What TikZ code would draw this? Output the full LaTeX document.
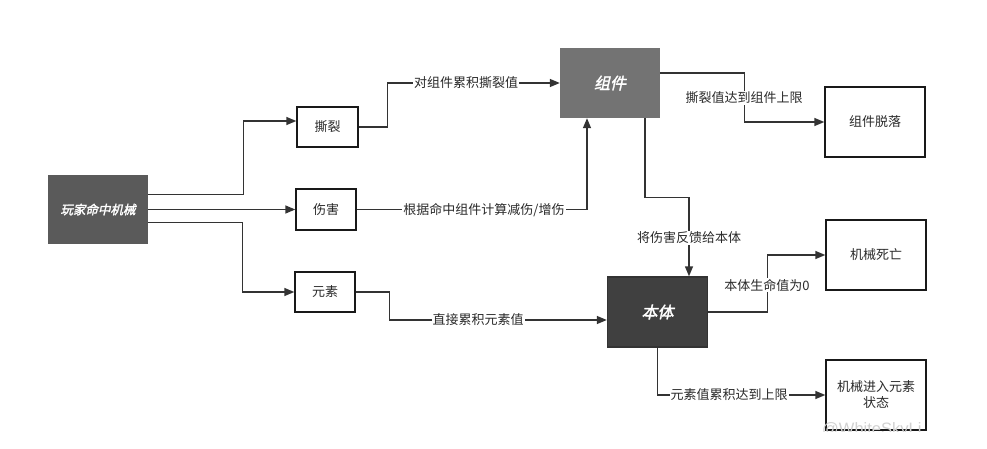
\documentclass[tikz,border=0pt]{standalone}
\usepackage{fontspec}
\setmainfont{Noto Sans CJK SC}
\newfontfamily\cjkbi{Noto Sans CJK SC}[FakeSlant=0.22,FakeBold=2]
\newfontfamily\wmfont{Liberation Sans}
\usetikzlibrary{arrows.meta}
\definecolor{linec}{HTML}{333333}
\definecolor{txtc}{HTML}{2A2A2A}
\definecolor{hitc}{HTML}{5A5A5A}
\definecolor{compc}{HTML}{737373}
\definecolor{bodyc}{HTML}{404040}
\tikzset{
  plainbox/.style={draw=black!90, line width=1.4pt, fill=white, text=txtc, minimum width=#1, align=center, inner sep=0pt, font=\fontsize{13}{16}\selectfont},
  plainbox/.default=100pt,
  darkbox/.style={draw=none, text=white, minimum width=100pt, minimum height=70pt, inner sep=0pt},
  arr/.style={draw=linec, line width=1.4pt, -{Triangle[length=10pt,width=8pt]}},
  elabel/.style={fill=white, text=txtc, inner sep=1pt, font=\fontsize{13}{15}\selectfont}
}
\begin{document}
\begin{tikzpicture}[x=1pt,y=-1pt]
\useasboundingbox (0,0) rectangle (987,449);
\fill[white] (0,0) rectangle (987,449);
% nodes
\node[darkbox, fill=hitc, minimum height=69pt, font=\cjkbi\fontsize{12.5}{14}\selectfont] (hit) at (98,209.5) {玩家命中机械};
\node[plainbox=61pt, minimum height=40pt] (tear) at (327.5,127) {撕裂};
\node[plainbox=60pt, minimum height=41pt] (dmg) at (326,209.5) {伤害};
\node[plainbox=60pt, minimum height=40pt] (elem) at (325,292) {元素};
\node[darkbox, fill=compc, font=\cjkbi\fontsize{16}{18}\selectfont] (comp) at (610,83) {组件};
\node[plainbox, minimum height=70pt] (drop) at (875,122) {组件脱落};
\node[plainbox, minimum height=70pt] (death) at (876,255) {机械死亡};
\node[darkbox, fill=bodyc, draw=linec, line width=1.4pt, font=\cjkbi\fontsize{16}{18}\selectfont] (body) at (657.5,312) {本体};
\node[plainbox, minimum height=70pt] (state) at (876,395) {机械进入元素\\状态};
% watermark
\begin{scope}
\clip (815,405) rectangle (940,431);
\node[anchor=base west, text=black!18, inner sep=0pt, font=\wmfont\fontsize{16.5}{18}\selectfont] (wm) at (822,434) {@WhiteSkyLi};
\end{scope}
% connectors
\draw[arr] ([yshift=15pt]hit.east) -- ++(95,0) |- ([yshift=6pt]tear.west);
\draw[arr] (hit.east) -- (dmg.west);
\draw[arr] ([yshift=-13pt]hit.east) -- ++(94,0) |- (elem.west);
\draw[arr] (tear.east) -- ++(29,0) |- (comp.west);
\draw[arr] (dmg.east) -| ([xshift=-23pt]comp.south);
\draw[arr] ([yshift=10pt]comp.east) -- ++(84,0) |- (drop.west);
\draw[arr] ([xshift=35pt]comp.south) -- ++(0,79) -| ([xshift=31.5pt]body.north);
\draw[arr] (elem.east) -- ++(34,0) |- ([yshift=-8pt]body.west);
\draw[arr] (body.east) -- ++(59,0) |- (death.west);
\draw[arr] (body.south) |- (state.west);
% labels
\node[elabel] (l1) at (466,83) {对组件累积撕裂值};
\node[elabel] (l2) at (484,210) {根据命中组件计算减伤/增伤};
\node[elabel] (l3) at (744,98) {撕裂值达到组件上限};
\node[elabel] (l4) at (689,238) {将伤害反馈给本体};
\node[elabel] (l5) at (478,320) {直接累积元素值};
\node[elabel] (l6) at (767,285) {本体生命值为0};
\node[elabel] (l7) at (729,395) {元素值累积达到上限};
\end{tikzpicture}
\end{document}
